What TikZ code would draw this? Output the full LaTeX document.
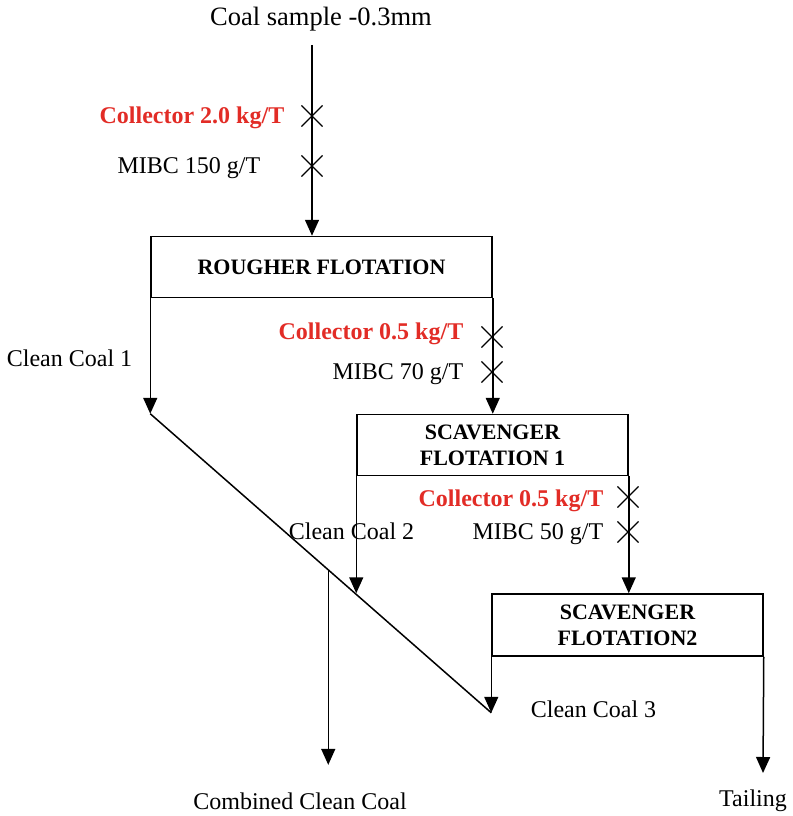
\documentclass[tikz,border=0pt]{standalone}
\usepackage{fontspec}
\setmainfont{Liberation Serif}
\usetikzlibrary{arrows.meta,shapes.misc,calc}
\definecolor{dosered}{RGB}{226,44,38}

\begin{document}
\begin{tikzpicture}[x=1pt,y=-1pt,>={Triangle[length=16pt,width=14pt]},line width=1.5pt,
  stage/.style={draw,minimum height=61pt,inner sep=0pt,align=center,font=\fontsize{22}{26}\selectfont\bfseries},
  lbl/.style={inner sep=0pt,text height=16pt,text depth=0pt,font=\fontsize{24}{28}\selectfont},
  dose/.style={lbl,anchor=east,text=dosered,font=\fontsize{24}{28}\selectfont\bfseries},
  mibc/.style={lbl,anchor=east},
  cross/.style={cross out,draw,line width=1.1pt,minimum size=20pt,inner sep=0pt}]
\useasboundingbox (0,0) rectangle (792,816);

% stages
\node[stage,minimum width=341pt] (rough) at (321.5,267) {ROUGHER FLOTATION};
\node[stage,minimum width=271pt] (scavA) at (492.5,445) {SCAVENGER\\FLOTATION 1};
\node[stage,minimum width=271pt,minimum height=62pt] (scavB) at (627.5,625) {SCAVENGER\\FLOTATION2};

% texts
\node[lbl,text height=17.6pt,font=\fontsize{26.5}{30}\selectfont] (feed) at (321,17) {Coal sample -0.3mm};
\node[lbl] (cc1txt) at (69.5,358) {Clean Coal 1};
\node[lbl] (cc2txt) at (351.5,531) {Clean Coal 2};
\node[lbl] (cc3txt) at (593.5,709) {Clean Coal 3};
\node[lbl] (prod) at (300,801) {Combined Clean Coal};
\node[lbl] (tail) at (753,798) {Tailing};

% reagents
\node[cross] (xA) at (312,116) {};
\node[cross] (xB) at (312,166) {};
\node[cross] (xC) at (492,337) {};
\node[cross] (xD) at (492,372) {};
\node[cross] (xE) at (628,497) {};
\node[cross] (xF) at (628,532) {};
\node[dose] (colA) at (285,115) {Collector 2.0 kg/T};
\node[mibc] (mibcA) at (261,165) {MIBC 150 g/T};
\node[dose] (colB) at (464,331) {Collector 0.5 kg/T};
\node[mibc] (mibcB) at (464,371) {MIBC 70 g/T};
\node[dose] (colC) at (604,498) {Collector 0.5 kg/T};
\node[mibc] (mibcC) at (604,531) {MIBC 50 g/T};

% flows
\coordinate (in) at (312,45);
\draw[->] (in) -- (in |- rough.north);
\draw[->] (rough.south west) -- (rough.south west |- scavA.north) coordinate (cc1);
\draw[->] (rough.south east) -- (rough.south east |- scavA.north);
\draw[->] (scavA.south west) -- (scavA.south west |- scavB.north);
\draw[->] (scavA.south east) -- (scavA.south east |- scavB.north);
\draw[->] (scavB.south west) -- ++(0,56) coordinate (cc3);
\coordinate (tailend) at (763,773);
\draw[->] (scavB.south east) -- (tailend);
\draw (cc1) -- (cc3);
\coordinate (mix) at ($(cc1)!0.522!(cc3)$);
\draw[->] (mix) -- ++(0,195);
\end{tikzpicture}
\end{document}
